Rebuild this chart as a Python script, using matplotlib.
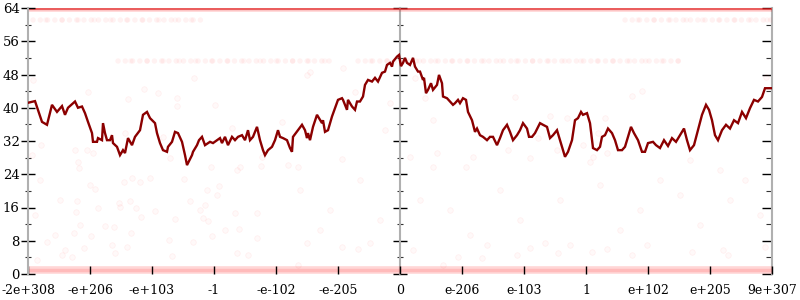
import numpy as np
import matplotlib.pyplot as plt
from matplotlib.ticker import MultipleLocator

# x axis is an ordinal over the floats, 0 .. 744, labelled every 62
tick_labels = ['-2e+308', '-e+206', '-e+103', '-1', '-e-102', '-e-205', '0',
               'e-206', 'e-103', '1', 'e+102', 'e+205', '9e+307']
x_span = 744
y_max = 64

# averaged error line
avg_x = [0, 7, 14, 19, 24, 29, 34, 37, 40, 47, 50, 54, 57, 60, 64, 65, 69, 70, 74, 75,
         77, 79, 82, 84, 85, 89, 92, 95, 97, 100, 104, 107, 112, 115, 119, 122, 127, 129,
         132, 135, 139, 140, 144, 147, 150, 154, 157, 159, 164, 165, 169, 171, 174, 177,
         182, 185, 189, 192, 194, 197, 200, 204, 207, 210, 214, 217, 220, 222, 225, 229,
         232, 235, 237, 240, 244, 247, 250, 252, 255, 259, 262, 264, 265, 270, 274, 277,
         279, 280, 282, 285, 289, 290, 294, 295, 297, 300, 304, 307, 310, 314, 315, 319,
         320, 324, 327, 329, 332, 335, 337, 340, 344, 347, 350, 354, 357, 359, 362, 364,
         365, 369, 371, 373, 375, 377, 379, 382, 385, 387, 390, 392, 395, 396, 398, 400,
         403, 405, 409, 411, 414, 415, 419, 422, 425, 427, 430, 432, 435, 438, 440, 444,
         447, 449, 452, 455, 459, 462, 465, 469, 472, 475, 479, 482, 485, 489, 492, 495,
         499, 501, 504, 507, 512, 515, 519, 522, 525, 529, 532, 534, 537, 540, 544, 547,
         550, 553, 555, 559, 562, 565, 569, 572, 574, 577, 580, 584, 587, 590, 594, 597,
         600, 603, 606, 610, 614, 617, 620, 625, 628, 632, 636, 640, 644, 648, 652, 656,
         659, 662, 666, 670, 674, 678, 681, 684, 687, 690, 694, 698, 702, 706, 710, 714,
         718, 722, 726, 730, 734, 737, 744]
avg_y = [41.2, 41.6, 36.6, 35.9, 40.7, 39.0, 40.4, 38.3, 40.0, 41.5, 40.0, 40.3, 38.7,
         36.6, 33.9, 31.8, 31.8, 32.7, 32.2, 36.3, 33.9, 32.2, 32.2, 33.4, 31.5, 30.6,
         28.6, 29.8, 29.1, 32.7, 31.0, 33.0, 34.6, 38.3, 39.0, 37.5, 36.3, 33.9, 31.5,
         29.8, 29.4, 30.6, 31.8, 34.2, 33.9, 31.8, 28.6, 26.2, 28.6, 29.4, 31.0, 32.2,
         33.0, 31.0, 31.8, 31.5, 32.2, 32.7, 31.5, 33.0, 31.0, 33.0, 32.2, 33.0, 33.4,
         32.2, 34.6, 32.2, 33.0, 35.4, 32.2, 29.8, 28.6, 29.8, 30.6, 32.2, 34.6, 33.0,
         32.7, 32.2, 30.3, 29.4, 33.0, 34.6, 35.9, 34.6, 32.7, 33.9, 32.2, 35.4, 38.3,
         37.9, 36.3, 37.0, 34.2, 34.6, 37.9, 39.9, 41.9, 42.3, 41.9, 39.5, 41.9, 40.3,
         39.5, 41.5, 41.5, 42.7, 45.5, 46.7, 46.3, 47.2, 46.3, 48.4, 48.7, 50.3, 50.8,
         49.9, 51.1, 52.3, 52.7, 50.0, 50.8, 52.0, 50.8, 50.3, 52.0, 49.9, 48.7, 48.7,
         46.7, 47.2, 43.5, 44.3, 45.9, 44.3, 45.5, 47.9, 45.9, 42.7, 42.3, 41.5, 40.7,
         41.1, 41.9, 41.1, 42.3, 41.9, 39.0, 37.0, 34.2, 35.0, 33.4, 33.0, 32.2, 33.0,
         33.0, 31.0, 32.7, 34.6, 35.9, 34.2, 32.2, 33.4, 34.6, 36.3, 35.0, 33.0, 33.0,
         33.9, 36.3, 35.9, 35.4, 32.7, 33.4, 34.6, 32.2, 30.6, 28.2, 29.4, 32.2, 37.0,
         37.5, 39.0, 38.3, 38.7, 36.3, 30.3, 29.8, 30.6, 33.0, 33.4, 35.0, 33.9, 32.2,
         29.8, 29.8, 30.6, 33.0, 35.4, 33.9, 32.2, 29.4, 29.4, 31.5, 31.8, 31.0, 30.3,
         32.2, 30.8, 32.7, 31.8, 33.4, 35.0, 32.2, 29.8, 31.0, 34.6, 38.3, 40.7, 39.5,
         37.0, 33.4, 32.2, 34.6, 35.9, 35.0, 37.0, 36.3, 39.0, 37.5, 39.9, 41.9, 41.5,
         42.6, 44.7, 44.7]

# individual sample errors (the faint scattered points)
pts_x = [51, 96, 104, 112, 122, 156, 183, 209, 233, 67, 49, 91, 102, 162, 179, 191, 189,
         48, 70, 92, 108, 127, 172, 177, 207, 229, 113, 147, 175, 180, 77, 86, 103, 197,
         211, 46, 63, 141, 184, 229, 84, 56, 5, 60, 116, 130, 100, 149, 166, 738, 614,
         604, 327, 362, 397, 13, 47, 59, 65, 50, 97, 4, 149, 187, 204, 135, 142, 212,
         234, 279, 282, 315, 254, 357, 260, 270, 314, 387, 487, 405, 382, 409, 405, 438,
         480, 445, 522, 539, 577, 570, 510, 529, 555, 579, 502, 562, 565, 19, 34, 44, 37,
         87, 99, 144, 165, 209, 220, 9, 279, 314, 330, 342, 385, 415, 430, 454, 459, 489,
         502, 270, 517, 542, 530, 564, 579, 619, 604, 664, 695, 700, 737, 12, 32, 7, 52,
         27, 62, 392, 422, 472, 492, 532, 572, 612, 652, 672, 702, 732, 442, 592, 632,
         717, 662, 692, 272, 302, 332, 352, 292]
pts_y = [25.5, 22.1, 23.1, 22.1, 23.1, 22.9, 25.7, 25.0, 26.0, 20.5, 17.6, 17.1, 17.6,
         17.6, 20.2, 21.2, 19.0, 14.9, 15.9, 16.1, 15.9, 15.2, 15.4, 16.6, 14.7, 14.7,
         13.7, 13.2, 13.5, 12.8, 11.5, 11.3, 9.9, 10.6, 10.8, 9.9, 9.1, 8.2, 9.1, 8.7,
         7.0, 6.3, 46.7, 43.8, 44.5, 43.6, 42.1, 42.3, 47.2, 47.4, 44.0, 42.8, 43.8,
         41.1, 42.3, 31.0, 29.8, 29.8, 29.1, 26.9, 33.9, 28.6, 40.4, 40.7, 35.1, 33.0,
         27.9, 25.7, 28.2, 47.9, 48.6, 49.6, 36.6, 34.6, 26.2, 25.7, 27.7, 47.2, 42.6,
         37.1, 28.2, 29.1, 25.7, 25.7, 29.8, 28.2, 38.0, 37.5, 37.5, 33.9, 32.7, 29.8,
         31.0, 29.1, 27.9, 26.9, 28.2, 7.7, 4.6, 4.1, 5.8, 5.1, 6.5, 4.3, 7.7, 5.1, 4.6,
         3.4, 7.5, 6.5, 6.0, 7.5, 5.8, 2.2, 4.1, 3.8, 7.0, 4.6, 6.3, 2.2, 7.5, 7.0, 5.1,
         5.3, 6.0, 7.0, 4.6, 5.3, 5.8, 4.6, 6.5, 22.6, 17.8, 14.2, 11.8, 9.4, 21.4, 17.8,
         15.4, 20.2, 13.0, 17.8, 21.4, 15.4, 19.0, 11.8, 17.8, 14.2, 9.4, 10.6, 22.6,
         22.6, 27.4, 25.0, 20.2, 15.4, 22.6, 13.0, 10.6]

# rows where many samples pile up: value, start, end
dense_rows = [(64.0, 0, 744), (0.9, 0, 744)]
sparse_rows = [(61.2, 5, 175), (61.2, 597, 744), (51.3, 90, 302), (51.3, 330, 652)]

fig = plt.figure(figsize=(8, 3), dpi=100)
ax = fig.add_axes([28 / 800, 26 / 300, 744 / 800, 266 / 300])
ax.set_xlim(0, x_span)
ax.set_ylim(0, y_max)

ax.scatter(pts_x, pts_y, s=16, facecolor=(1, 0, 0, 0.025), edgecolor=(1, 0, 0, 0.05),
           linewidths=0.6, zorder=1)

y_top = dense_rows[0][0]
for y, x0, x1 in dense_rows:
    if y == y_top:
        ax.plot([x0, x1], [y - 0.3, y - 0.3], color='red', lw=4, alpha=0.18,
                solid_capstyle='butt', zorder=1)
        ax.plot([x0, x1], [y - 0.3, y - 0.3], color='#e02020', lw=1.6, alpha=0.65,
                solid_capstyle='butt', zorder=1)
    else:
        ax.plot([x0, x1], [y, y], color='red', lw=5.5, alpha=0.16,
                solid_capstyle='butt', zorder=1)
        ax.plot([x0, x1], [y, y], color='red', lw=2.5, alpha=0.12,
                solid_capstyle='butt', zorder=1)
for y, x0, x1 in sparse_rows:
    ax.plot([x0, x1], [y, y], color='red', lw=4, alpha=0.05,
            linestyle=(0, (0.01, 1.3)), dash_capstyle='round', zorder=1)
    ax.plot([x0, x1], [y, y], color='red', lw=4, alpha=0.04,
            linestyle=(0.6, (0.01, 2.9)), dash_capstyle='round', zorder=1)

ax.plot(avg_x, avg_y, color='#8b0000', lw=1.7, zorder=3, solid_joinstyle='miter')

for s in ['top', 'bottom', 'right']:
    ax.spines[s].set_visible(False)
ax.spines['left'].set_color('#b0b0b0')
ax.spines['left'].set_linewidth(1.5)

yt = np.arange(0, y_max + 1, 8)
ax.set_yticks(yt)
ax.set_yticklabels([str(v) for v in yt], fontfamily='DejaVu Serif', fontsize=9.5)
ax.yaxis.set_minor_locator(MultipleLocator(4))
ax.tick_params(axis='y', which='major', direction='inout', length=10, width=1,
               color='black', pad=1)
ax.tick_params(axis='y', which='minor', direction='inout', length=4, width=0.8,
               color='#333333')

ax.set_xticks(np.linspace(0, x_span, len(tick_labels)))
ax.set_xticklabels(tick_labels, fontfamily='DejaVu Serif', fontsize=9)
ax.tick_params(axis='x', direction='in', length=6, width=1, color='black', pad=7)

mid = ax.secondary_yaxis(0.5)
mid.set_yticks(yt)
mid.set_yticklabels([])
mid.yaxis.set_minor_locator(MultipleLocator(4))
mid.tick_params(which='major', direction='inout', length=10, width=1, color='black')
mid.tick_params(which='minor', direction='inout', length=4, width=0.8, color='#333333')
mid.spines['right'].set_color('#b0b0b0')
mid.spines['right'].set_linewidth(1.5)
mid.spines['left'].set_color('#b0b0b0')
mid.spines['left'].set_linewidth(1.5)

rgt = ax.secondary_yaxis('right')
rgt.set_yticks(yt)
rgt.set_yticklabels([])
rgt.yaxis.set_minor_locator(MultipleLocator(4))
rgt.tick_params(which='major', direction='in', length=7, width=1, color='black')
rgt.tick_params(which='minor', direction='in', length=4, width=0.8, color='#333333')
rgt.spines['right'].set_color('#b0b0b0')
rgt.spines['right'].set_linewidth(1.5)

fig.savefig('out.png', dpi=100)
